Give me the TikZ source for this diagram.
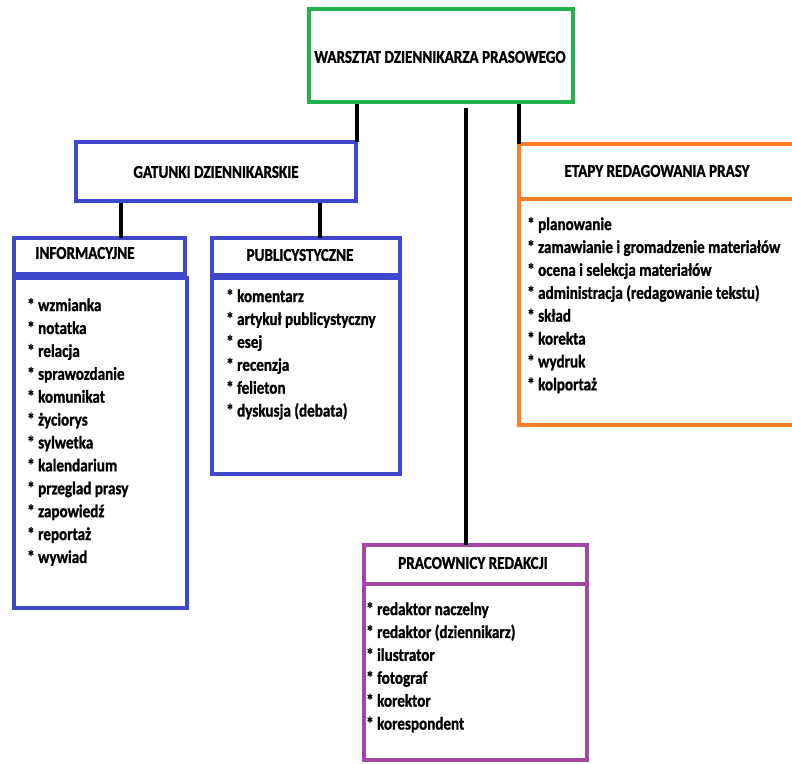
\documentclass[tikz,border=0pt]{standalone}
\usepackage{fontspec}
\setmainfont[FakeStretch=0.84,BoldFeatures={FakeBold=1.2}]{Carlito}
\definecolor{cgreen}{RGB}{34,177,76}
\definecolor{cblue}{RGB}{63,72,204}
\definecolor{corange}{RGB}{255,127,39}
\definecolor{cpurple}{RGB}{163,73,164}
\tikzset{
  box/.style={draw, line width=4.5pt, inner sep=0pt, outer sep=0pt, anchor=north west},
  conn/.style={draw=black, line width=4pt},
  ttl/.style={font=\fontsize{18}{20}\selectfont\bfseries, inner sep=0pt},
  items/.style={font=\fontsize{18}{22.9}\selectfont\bfseries, align=left, anchor=north west, inner sep=0pt},
}
\begin{document}
\begin{tikzpicture}[x=1pt,y=-1pt]
\useasboundingbox (0,0) rectangle (792,763);
\clip (0,0) rectangle (792,763);
% boxes
\node[box, draw=cgreen, minimum width=264pt, minimum height=93pt] (top) at (309,9) {};
\node[box, draw=cblue, minimum width=280pt, minimum height=59pt] (gat) at (76,142) {};
\node[box, draw=cblue, minimum width=171pt, minimum height=36pt] (infH) at (14,238) {};
\node[box, draw=cblue, minimum width=173pt, minimum height=330pt] (infC) at (14,278) {};
\node[box, draw=cblue, minimum width=188pt, minimum height=37pt] (pubH) at (212,238) {};
\node[box, draw=cblue, minimum width=188pt, minimum height=196pt] (pubC) at (212,278) {};
\node[box, draw=corange, minimum width=290pt, minimum height=55pt] (etH) at (519,144) {};
\node[box, draw=corange, minimum width=290pt, minimum height=226pt] (etC) at (519,199) {};
\node[box, draw=cpurple, minimum width=223pt, minimum height=39pt] (prH) at (364,545) {};
\node[box, draw=cpurple, minimum width=223pt, minimum height=176pt] (prC) at (364,584) {};
% titles
\node[ttl] (tTop) at (440,57) {WARSZTAT DZIENNIKARZA PRASOWEGO};
\node[ttl] (tGat) at (216,172) {GATUNKI DZIENNIKARSKIE};
\node[ttl] (tInf) at (85,253) {INFORMACYJNE};
\node[ttl] (tPub) at (300,255) {PUBLICYSTYCZNE};
\node[ttl] (tEt) at (657,171) {ETAPY REDAGOWANIA PRASY};
\node[ttl] (tPr) at (473,563) {PRACOWNICY REDAKCJI};
% lists
\node[items] (lInf) at (27,298) {* wzmianka\\* notatka\\* relacja\\* sprawozdanie\\* komunikat\\* życiorys\\* sylwetka\\* kalendarium\\* przeglad prasy\\* zapowiedź\\* reportaż\\* wywiad};
\node[items] (lPub) at (226,289) {* komentarz\\* artykuł publicystyczny\\* esej\\* recenzja\\* felieton\\* dyskusja (debata)};
\node[items] (lEt) at (527,217) {* planowanie\\* zamawianie i gromadzenie materiałów\\* ocena i selekcja materiałów\\* administracja (redagowanie tekstu)\\* skład\\* korekta\\* wydruk\\* kolportaż};
\node[items] (lPr) at (366,602) {* redaktor naczelny\\* redaktor (dziennikarz)\\* ilustrator\\* fotograf\\* korektor\\* korespondent};
% connectors
\coordinate (c1) at (357,104);
\coordinate (c2) at (519,104);
\coordinate (c3) at (466,108);
\coordinate (c4) at (121,203);
\coordinate (c5) at (320,203);
\draw[conn] (c1) -- (c1 |- gat.north);
\draw[conn] (c2) -- (c2 |- etH.north);
\draw[conn] (c3) -- (c3 |- prH.north);
\draw[conn] (c4) -- (c4 |- infH.north);
\draw[conn] (c5) -- (c5 |- pubH.north);
\end{tikzpicture}
\end{document}
